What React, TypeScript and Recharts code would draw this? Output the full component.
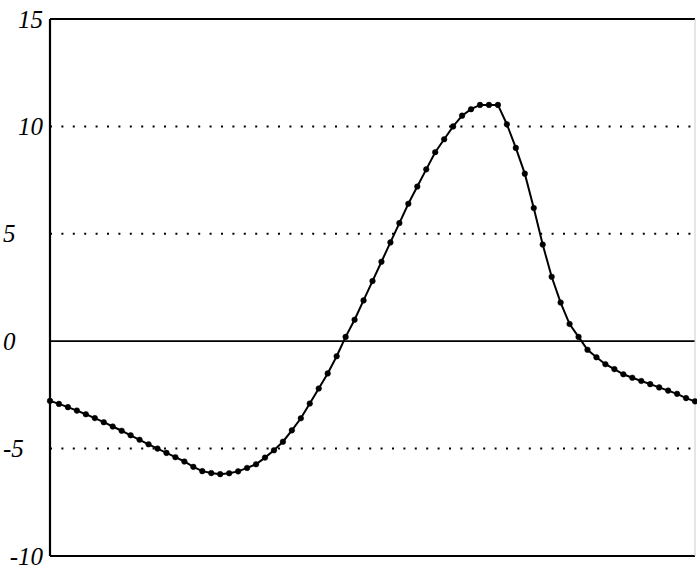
import { LineChart, Line, XAxis, YAxis, ReferenceLine } from "recharts"

// sample index along the horizontal axis (73 samples)
const values = [
  -2.78, -2.92, -3.07, -3.23, -3.4, -3.58, -3.77, -3.97, -4.17, -4.38,
  -4.59, -4.8, -5.0, -5.2, -5.4, -5.6, -5.85, -6.05, -6.14, -6.19,
  -6.15, -6.06, -5.9, -5.73, -5.42, -5.08, -4.68, -4.15, -3.59, -2.9,
  -2.2, -1.5, -0.7, 0.2, 1.0, 1.9, 2.8, 3.7, 4.6, 5.5,
  6.4, 7.2, 8.0, 8.8, 9.4, 10.0, 10.5, 10.8, 11.0, 11.0,
  11.0, 10.1, 9.0, 7.8, 6.2, 4.5, 3.0, 1.8, 0.8, 0.2,
  -0.4, -0.75, -1.07, -1.3, -1.54, -1.7, -1.85, -2.0, -2.15, -2.3,
  -2.45, -2.65, -2.8,
]

const yTicks = [-10, -5, 0, 5, 10, 15]
const dottedLevels = [-5, 5, 10]
// labels that sit flush right against the axis; the rest start at the left edge
const rightAligned = [15, 10, -10]

const data = values.map((v, i) => ({ i, v }))

function YTick(props: any) {
  const { y, payload } = props
  const right = rightAligned.includes(payload.value)
  return (
    <text
      x={right ? 43 : 3}
      y={y}
      dy="0.34em"
      textAnchor={right ? "end" : "start"}
      fontSize={25}
      fontStyle="italic"
      fontFamily="'Liberation Serif', 'DejaVu Serif', serif"
      fill="#000"
    >
      {payload.value}
    </text>
  )
}

export default function App() {
  return (
    <div style={{ position: "absolute", left: 0, top: 0, background: "#fff" }}>
      <LineChart
        width={697}
        height={569}
        data={data}
        margin={{ top: 19, right: 2, bottom: 13, left: 0 }}
      >
        <XAxis type="number" dataKey="i" domain={[0, 72]} hide />
        <YAxis
          type="number"
          domain={[-10, 15]}
          ticks={yTicks}
          width={50}
          axisLine={{ stroke: "#000", strokeWidth: 2.2 }}
          tickLine={false}
          tick={<YTick />}
        />
        {dottedLevels.map((y) => (
          <ReferenceLine
            key={y}
            y={y}
            stroke="#000"
            strokeWidth={2}
            strokeDasharray="2 9.4"
          />
        ))}
        <ReferenceLine y={0} stroke="#000" strokeWidth={1.8} />
        <ReferenceLine y={15} stroke="#000" strokeWidth={2.2} />
        <ReferenceLine y={-10} stroke="#000" strokeWidth={2.2} />
        <ReferenceLine x={72} stroke="#ccc" strokeWidth={1} />
        <Line
          type="linear"
          dataKey="v"
          stroke="#000"
          strokeWidth={2}
          dot={{ r: 2.8, fill: "#000", stroke: "#000", strokeWidth: 0.5 }}
          isAnimationActive={false}
        />
      </LineChart>
    </div>
  )
}
